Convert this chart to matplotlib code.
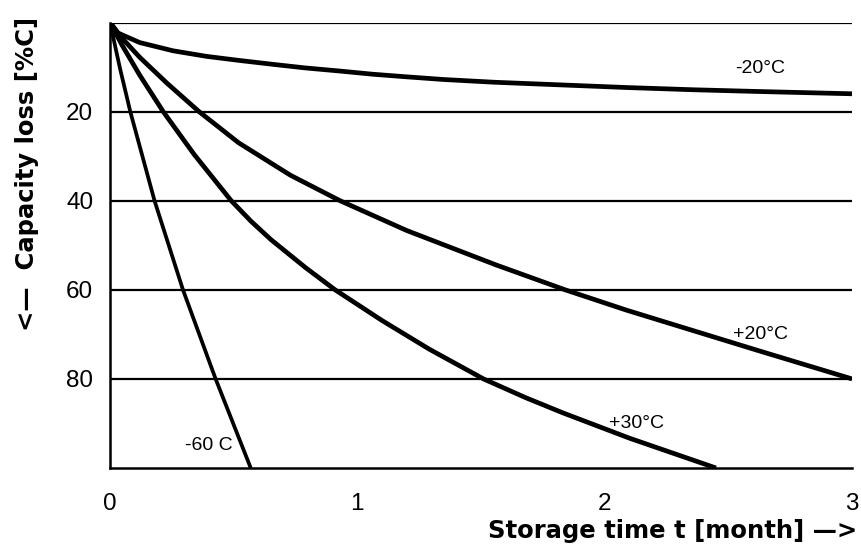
import matplotlib
matplotlib.use("Agg")
import matplotlib.pyplot as plt

# storage time [month] / capacity loss [%]
t_m20 = [0, 0.03, 0.12, 0.255, 0.39, 0.52, 0.66, 0.79, 0.93, 1.06, 1.2, 1.35, 1.55, 1.82, 2.09, 2.36, 2.63, 3.0]
loss_m20 = [0, 2.3, 4.5, 6.35, 7.6, 8.5, 9.4, 10.2, 10.9, 11.6, 12.2, 12.8, 13.4, 14.0, 14.6, 15.1, 15.5, 16.0]

t_p20 = [0, 0.05, 0.12, 0.23, 0.36, 0.52, 0.73, 0.93, 1.2, 1.56, 1.84, 2.09, 2.36, 2.63, 3.0]
loss_p20 = [0, 3.6, 7.8, 13.6, 20, 27, 34.3, 40, 46.7, 54.4, 60, 64.6, 69.2, 73.8, 80]

t_p30 = [0, 0.05, 0.12, 0.215, 0.34, 0.49, 0.57, 0.65, 0.79, 0.91, 1.1, 1.29, 1.51, 1.68, 1.83, 2.1, 2.45]
loss_p30 = [0, 5.2, 11.8, 20, 29.6, 40, 44.6, 48.7, 55, 60, 66.9, 73.3, 80, 84.2, 87.6, 93.3, 100]

t_60 = [0, 0.04, 0.082, 0.18, 0.295, 0.427, 0.569]
loss_60 = [0, 10.2, 20, 40, 60, 80, 100]

curve_labels = ["-20°C", "+20°C", "+30°C", "-60 C"]
label_pos = [(2.63, 10.4), (2.63, 70), (2.13, 90), (0.40, 95)]

x_ticks = [0, 1, 2, 3]
y_ticks = [20, 40, 60, 80]
grid_levels = [0, 20, 40, 60, 80]

W, H = 861, 557
fig = plt.figure(figsize=(W / 100, H / 100), dpi=100)
ax = fig.add_axes([110 / W, 1 - 468 / H, (852 - 110) / W, (468 - 22.5) / H])

for y in grid_levels:
    ax.axhline(y, color="black", lw=1.6, zorder=1)

style = dict(color="black", solid_capstyle="butt", solid_joinstyle="round")
ax.plot(t_m20, loss_m20, lw=3.4, **style)
ax.plot(t_p20, loss_p20, lw=3.4, **style)
ax.plot(t_p30, loss_p30, lw=3.4, **style)
ax.plot(t_60, loss_60, lw=2.7, **style)

for txt, (x, y) in zip(curve_labels, label_pos):
    ax.text(x, y, txt, fontsize=14, family="Liberation Sans", ha="center", va="center")

ax.set_xlim(0, 3)
ax.set_ylim(100, 0)
ax.set_xticks(x_ticks)
ax.set_yticks(y_ticks)
ax.set_xticklabels([str(v) for v in x_ticks], family="Liberation Sans", fontsize=17.5)
ax.set_yticklabels([str(v) for v in y_ticks], family="Liberation Sans", fontsize=17.5)
ax.tick_params(axis="x", length=0, pad=18)
ax.tick_params(axis="y", length=0, pad=12)

for side in ["top", "right"]:
    ax.spines[side].set_visible(False)
for side in ["left", "bottom"]:
    ax.spines[side].set_linewidth(1.8)

fig.text(857 / W, 1 - 531 / H, "Storage time t [month] —>", ha="right", va="center",
         fontsize=17.5, fontweight="bold", family="DejaVu Sans")
fig.text(27 / W, 1 - 173.5 / H, "<—  Capacity loss [%C]", ha="center", va="center",
         rotation=90, fontsize=17.5, fontweight="bold", family="DejaVu Sans")

fig.savefig("out.png", dpi=100)
